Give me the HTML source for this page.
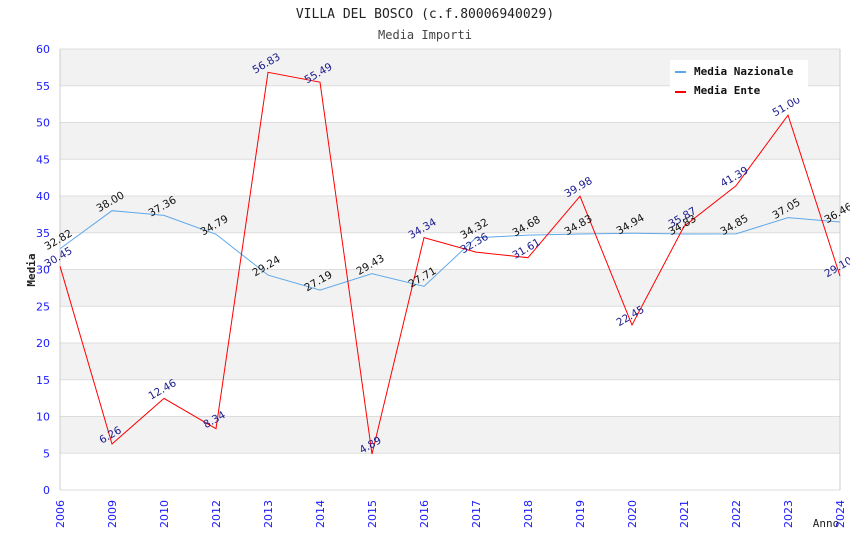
<!DOCTYPE html>
<html><head><meta charset="utf-8"><style>
body{margin:0;background:#fff}
svg{display:block}
text{font-family:"DejaVu Sans","Liberation Sans",sans-serif}
.mono{font-family:"DejaVu Sans Mono","Liberation Mono",monospace}
</style></head><body>
<svg id="chart" width="850" height="550">
<text class="mono" x="425" y="18" text-anchor="middle" font-size="13" fill="#222">VILLA DEL BOSCO (c.f.80006940029)</text>
<text class="mono" x="425" y="39" text-anchor="middle" font-size="12" fill="#444">Media Importi</text>
<g id="bands"></g><g id="grid"></g><g id="lines"></g><g id="labels"></g><g id="axes"></g>
<text class="mono" x="35" y="270" text-anchor="middle" font-size="11" font-weight="bold" fill="#222" transform="rotate(-90 35 270)">Media</text>
<text class="mono" x="826" y="527" text-anchor="middle" font-size="11" fill="#222">Anno</text>
<g>
<rect x="670" y="60" width="138" height="38" fill="#fff"/>
<rect x="675" y="71" width="11" height="2" fill="#5fa8e8"/>
<text class="mono" x="694" y="75" font-size="11" font-weight="bold" fill="#111">Media Nazionale</text>
<rect x="675" y="91" width="11" height="2" fill="#f00"/>
<text class="mono" x="694" y="94" font-size="11" font-weight="bold" fill="#111">Media Ente</text>
</g>
</svg>
<script>
const years=["2006","2009","2010","2012","2013","2014","2015","2016","2017","2018","2019","2020","2021","2022","2023","2024"];
const nazionale=[32.82,38.00,37.36,34.79,29.24,27.19,29.43,27.71,34.32,34.68,34.83,34.94,34.83,34.85,37.05,36.46];
const ente=[30.45,6.26,12.46,8.34,56.83,55.49,4.89,34.34,32.36,31.61,39.98,22.45,35.87,41.39,51.00,29.10];
const yTicks=[0,5,10,15,20,25,30,35,40,45,50,55,60];
const NS="http://www.w3.org/2000/svg";
const L=60,R=840,T=49,B=490,YMAX=60;
const xs=i=>L+i*(R-L)/(years.length-1);
const ys=v=>B-v*(B-T)/YMAX;
function mk(tag,attrs,parent){const e=document.createElementNS(NS,tag);for(const k in attrs)e.setAttribute(k,attrs[k]);document.getElementById(parent).appendChild(e);return e;}
for(let i=0;i<yTicks.length-1;i++){
  if(i%2===1){const r=mk('rect',{x:L,y:ys(yTicks[i+1]),width:R-L,height:ys(yTicks[i])-ys(yTicks[i+1]),fill:'#f2f2f2'},'bands');
  
  }
}
yTicks.forEach(t=>{
  const l=mk('line',{x1:L,x2:R,y1:ys(t),y2:ys(t),stroke:'#ddd'},'grid');
  
  
  const tx=mk('text',{x:L-10,y:ys(t)+4,'text-anchor':'end','font-size':11,fill:'#1a1aff'},'axes');
  tx.textContent=t;
  
  
});
mk('line',{x1:L,x2:L,y1:T,y2:B,stroke:'#ccc'},'grid');
mk('line',{x1:R,x2:R,y1:T,y2:B,stroke:'#ccc'},'grid');
years.forEach((y,i)=>{
  const x=xs(i);
  const tx=mk('text',{x:x+4,y:B+10,'text-anchor':'end','font-size':11,fill:'#1a1aff',transform:`rotate(-90 ${x+4} ${B+10})`},'axes');
  tx.textContent=y;
  
  
});
function series(data,color,lab,name){
  const p=mk('polyline',{points:data.map((v,i)=>xs(i)+','+ys(v)).join(' '),fill:'none',stroke:color,'stroke-width':1},'lines');
  
  
  data.forEach((v,i)=>{
    const x=xs(i),y=ys(v)-6;
    const t=mk('text',{x:x,y:y,'text-anchor':'middle','font-size':10.5,fill:lab,transform:`rotate(-30 ${x} ${y})`},'labels');
    t.textContent=v.toFixed(2);
    
    
  });
}
series(nazionale,'#5fa8e8','#111','nazionale');
series(ente,'#f00','#1a1a8c','ente');
</script>
</body></html>
